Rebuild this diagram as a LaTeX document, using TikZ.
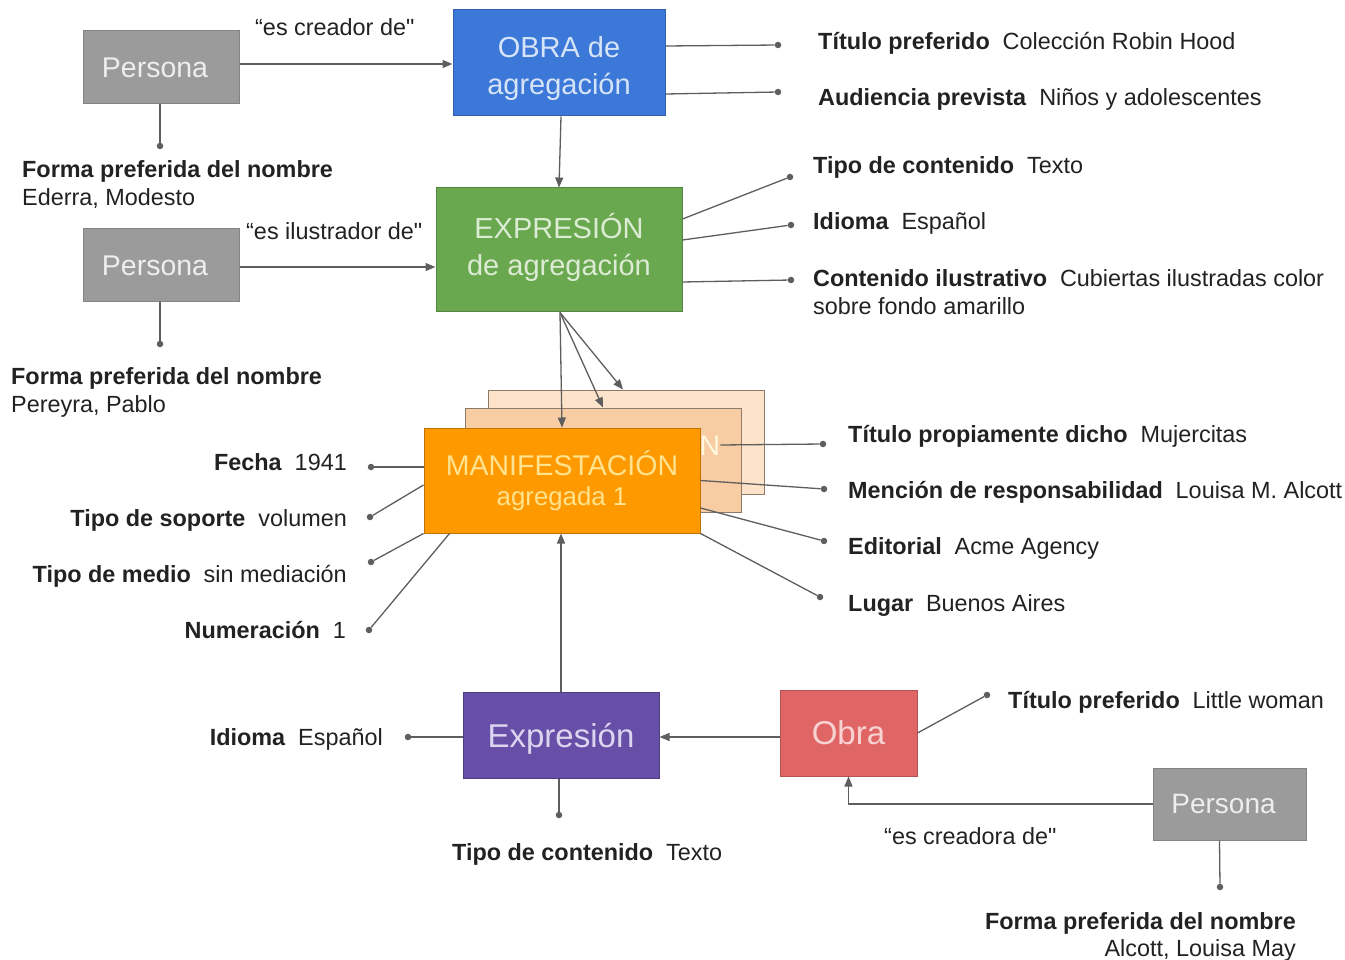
\documentclass[tikz,border=0pt]{standalone}
\usepackage{fontspec}
\setmainfont{Liberation Sans}[Ligatures=TeXOff]
\usetikzlibrary{arrows.meta}
\definecolor{ln}{HTML}{5E5E5E}
\definecolor{txt}{HTML}{222222}
\definecolor{grayf}{HTML}{9B9B9B}
\definecolor{grayt}{HTML}{EEEEEE}
\definecolor{bluef}{HTML}{3C78D8}
\definecolor{bluet}{HTML}{D6E4F7}
\definecolor{greenf}{HTML}{6AA84F}
\definecolor{greent}{HTML}{DCEBD4}
\definecolor{orf}{HTML}{FF9900}
\definecolor{ort}{HTML}{FFE38F}
\definecolor{midf}{HTML}{F9CDA3}
\definecolor{backf}{HTML}{FCE3CA}
\definecolor{stackd}{HTML}{8C7A6B}
\definecolor{purf}{HTML}{674EA7}
\definecolor{purt}{HTML}{DDD5F0}
\definecolor{redf}{HTML}{E06666}
\definecolor{redt}{HTML}{F8D3D3}
\tikzset{
  box/.style={rectangle, inner sep=0pt, align=center, line width=1pt},
  lbl/.style={font=\fontsize{23.4}{28}\selectfont, text=txt, inner sep=0pt},
  dotn/.style={circle, fill=ln, inner sep=0pt, minimum size=6.5pt},
  conn/.style={draw=ln, line width=1.3pt},
  arr/.style={conn, -{Triangle[length=10pt,width=8pt]}},
}
\newcommand{\gapx}{\hspace{0.55em}}
\newcommand{\shiftdown}[2]{\raisebox{-#1}[\height][\depth]{#2}}
\begin{document}
\begin{tikzpicture}[x=1pt,y=-1pt]
\useasboundingbox (0,0) rectangle (1345,960);
\fill[white] (0,0) rectangle (1345,960);

% boxes
\node[box, fill=grayf, draw=grayf!85!black, text=grayt, minimum width=156pt, minimum height=73pt, font=\fontsize{28.5}{36}\selectfont] (p1) at (161,67.5) {\hspace*{-12pt}Persona};
\node[box, fill=bluef, draw=bluef!80!black, text=bluet, minimum width=212pt, minimum height=106pt, font=\fontsize{29}{37}\selectfont] (obra) at (559,63) {\shiftdown{6pt}{\begin{tabular}{@{}c@{}}OBRA de\\agregación\end{tabular}}};
\node[box, fill=greenf, draw=greenf!80!black, text=greent, minimum width=246pt, minimum height=124pt, font=\fontsize{29}{37}\selectfont] (expr) at (559,250) {\begin{tabular}{@{}c@{}}EXPRESIÓN\\de agregación\end{tabular}};
\node[box, fill=grayf, draw=grayf!85!black, text=grayt, minimum width=156pt, minimum height=73pt, font=\fontsize{28.5}{36}\selectfont] (p2) at (161,265.5) {\hspace*{-12pt}Persona};

\node[box, fill=backf, draw=stackd, minimum width=276pt, minimum height=104pt] (back) at (626,442) {};
\node[box, fill=midf, draw=stackd, minimum width=276pt, minimum height=104pt] (mid) at (603,460) {};
\node[inner sep=0pt, text=ort!30!white, font=\fontsize{28.5}{34}\selectfont] (midtxt) at (604,443) {MANIFESTACIÓN};
\node[box, fill=orf, draw=orf!75!black, text=ort, minimum width=276pt, minimum height=105pt, font=\fontsize{28.5}{34}\selectfont] (man) at (562,480.5) {MANIFESTACIÓN\\[-4pt]{\fontsize{25.8}{30}\selectfont agregada 1}};

\node[box, fill=purf, draw=purf!80!black, text=purt, minimum width=196pt, minimum height=86pt, font=\fontsize{33}{40}\selectfont] (expn) at (561,735) {\shiftdown{4pt}{Expresión}};
\node[box, fill=redf, draw=redf!80!black, text=redt, minimum width=137pt, minimum height=86pt, font=\fontsize{33}{40}\selectfont] (obra2) at (848.5,733) {Obra};
\node[box, fill=grayf, draw=grayf!85!black, text=grayt, minimum width=153pt, minimum height=72pt, font=\fontsize{28}{36}\selectfont] (p3) at (1229.5,804) {\hspace*{-12pt}Persona};

% dots
\node[dotn] (d1) at (160,146) {};
\node[dotn] (d2) at (778,45) {};
\node[dotn] (d3) at (778,92) {};
\node[dotn] (d4) at (160,344) {};
\node[dotn] (d5) at (790,177) {};
\node[dotn] (d6) at (791,225) {};
\node[dotn] (d7) at (791,280) {};
\node[dotn] (d8) at (823,444) {};
\node[dotn] (d9) at (824,489) {};
\node[dotn] (d10) at (824,541) {};
\node[dotn] (d11) at (820,597) {};
\node[dotn] (d12) at (371,467) {};
\node[dotn] (d13) at (370,517) {};
\node[dotn] (d14) at (371,562) {};
\node[dotn] (d15) at (369,630) {};
\node[dotn] (d16) at (408,737) {};
\node[dotn] (d17) at (559,815) {};
\node[dotn] (d18) at (987,695) {};
\node[dotn] (d19) at (1220,887) {};

% labels
\node[lbl, anchor=base west] (l1) at (255,36) {“es creador de"};
\node[lbl, anchor=base west] (l2) at (246,240) {“es ilustrador de"};
\node[lbl, anchor=base west] (l3) at (884,844) {“es creadora de"};

\node[lbl, anchor=base west] (t1) at (818,50) {\textbf{Título preferido}\gapx Colección Robin Hood};
\node[lbl, anchor=base west] (t2) at (818,106) {\textbf{Audiencia prevista}\gapx Niños y adolescentes};
\node[lbl, anchor=base west] (f1a) at (22,178) {\textbf{Forma preferida del nombre}};
\node[lbl, anchor=base west] (f1b) at (22,206) {Ederra, Modesto};
\node[lbl, anchor=base west] (t3) at (813,174) {\textbf{Tipo de contenido}\gapx Texto};
\node[lbl, anchor=base west] (t4) at (813,230) {\textbf{Idioma}\gapx Español};
\node[lbl, anchor=base west] (t5a) at (813,287) {\textbf{Contenido ilustrativo}\gapx Cubiertas ilustradas color};
\node[lbl, anchor=base west] (t5b) at (813,315) {sobre fondo amarillo};
\node[lbl, anchor=base west] (f2a) at (11,384) {\textbf{Forma preferida del nombre}};
\node[lbl, anchor=base west] (f2b) at (11,412) {Pereyra, Pablo};

\node[lbl, anchor=base west] (m1) at (848,442) {\textbf{Título propiamente dicho}\gapx Mujercitas};
\node[lbl, anchor=base west] (m2) at (848,498) {\textbf{Mención de responsabilidad}\gapx Louisa M. Alcott};
\node[lbl, anchor=base west] (m3) at (848,554) {\textbf{Editorial}\gapx Acme Agency};
\node[lbl, anchor=base west] (m4) at (848,611) {\textbf{Lugar}\gapx Buenos Aires};
\node[lbl, anchor=base east] (m5) at (347,470) {\textbf{Fecha}\gapx 1941};
\node[lbl, anchor=base east] (m6) at (347,526) {\textbf{Tipo de soporte}\gapx volumen};
\node[lbl, anchor=base east] (m7) at (347,582) {\textbf{Tipo de medio}\gapx sin mediación};
\node[lbl, anchor=base east] (m8) at (346,638) {\textbf{Numeración}\gapx 1};

\node[lbl, anchor=base east] (e1) at (383,745) {\textbf{Idioma}\gapx Español};
\node[lbl, anchor=base west] (e2) at (452,860) {\textbf{Tipo de contenido}\gapx Texto};
\node[lbl, anchor=base west] (o1) at (1008,708) {\textbf{Título preferido}\gapx Little woman};
\node[lbl, anchor=base east] (f3a) at (1296,929) {\textbf{Forma preferida del nombre}};
\node[lbl, anchor=base east] (f3b) at (1296,956) {Alcott, Louisa May};

% connectors
\draw[arr] ([yshift=3.5pt]p1.east) -- ([yshift=3.5pt]p1.east -| obra.west);
\draw[conn] (p1.south -| d1) -- (d1);
\draw[conn] ([yshift=17pt]obra.east) -- (d2);
\draw[conn] ([yshift=-31pt]obra.east) -- (d3);
\draw[arr] ([xshift=2pt]obra.south) -- (expr.north);
\draw[arr] ([yshift=-1.5pt]p2.east) -- ([yshift=-1.5pt]p2.east -| expr.west);
\draw[conn] (p2.south -| d4) -- (d4);
\draw[conn] ([yshift=31pt]expr.east) -- (d5);
\draw[conn] ([yshift=10pt]expr.east) -- (d6);
\draw[conn] ([yshift=-32pt]expr.east) -- (d7);

\draw[arr] ([xshift=1pt]expr.south) -- (man.north);
\draw[arr] ([xshift=1pt]expr.south) -- (mid.north);
\draw[arr] ([xshift=1pt]expr.south) -- ([xshift=-3pt]back.north);

\draw[conn] ([yshift=-2pt]midtxt.east) -- (d8);
\draw[conn] (man.east) -- (d9);
\draw[conn] ([yshift=-27.5pt]man.east) -- (d10);
\draw[conn] (man.south east) -- (d11);
\draw[conn] ([yshift=13.5pt]man.west) -- (d12);
\draw[conn] ([yshift=-4.5pt]man.west) -- (d13);
\draw[conn] (man.south west) -- (d14);
\draw[conn] ([xshift=26pt]man.south west) -- (d15);

\draw[arr] (expn.north) -- (man.south -| expn.north);
\draw[conn] ([yshift=-2pt]expn.west) -- (d16);
\draw[conn] ([xshift=-2pt]expn.south) -- (d17);
\draw[arr] ([yshift=-4pt]obra2.west) -- ([yshift=-2pt]expn.east);
\draw[conn] (obra2.east) -- (d18);
\draw[arr] (p3.west) -| (obra2.south);
\draw[conn] ([xshift=-10pt]p3.south) -- (d19);
\end{tikzpicture}
\end{document}
